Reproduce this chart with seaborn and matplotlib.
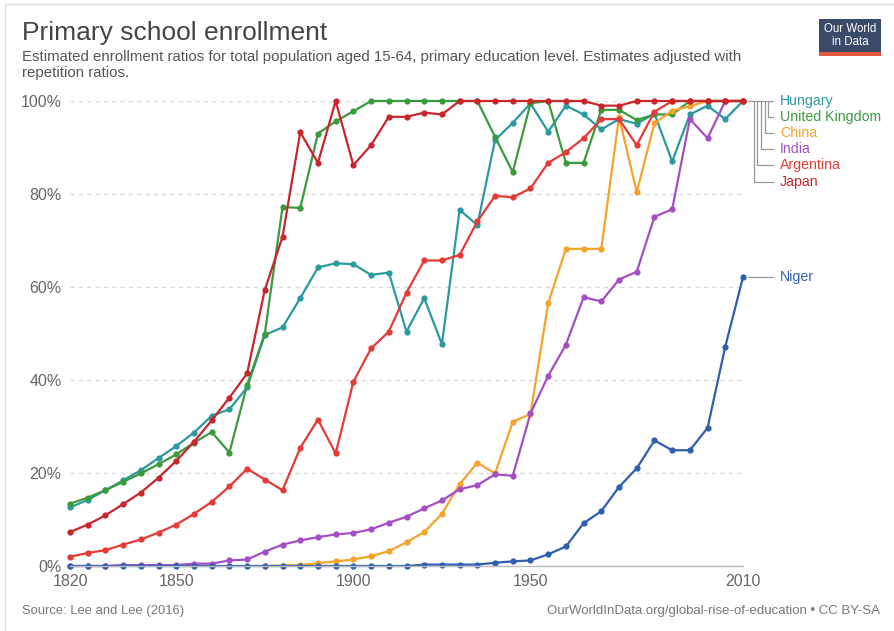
import numpy as np
import pandas as pd
import matplotlib
matplotlib.use('Agg')
import matplotlib.pyplot as plt
from matplotlib.lines import Line2D
from matplotlib.patches import Rectangle
import seaborn as sns

# Data (enrollment ratio, %)
years = list(range(1820, 2011, 5))

hungary = [12.6, 14.2, 16.3, 18.4, 20.6, 23.2, 25.8, 28.7, 32.3, 33.7, 38.4,
           49.7, 51.3, 57.6, 64.2, 65.1, 64.9, 62.6, 63.1, 50.4, 57.6, 47.7,
           76.6, 73.3, 91.6, 95.3, 99.5, 93.4, 99.0, 97.1, 93.9, 96.1, 95.1,
           97.3, 87.0, 97.1, 99.0, 96.1, 100.0]
united_kingdom = [13.4, 14.7, 16.3, 18.1, 19.9, 21.9, 24.0, 26.5, 28.8, 24.4, 38.9,
                  50.0, 77.2, 77.0, 93.0, 95.6, 97.8, 100.0, 100.0, 100.0, 100.0, 100.0,
                  100.0, 100.0, 92.3, 84.7, 99.5, 100.0, 86.7, 86.7, 98.1, 98.1, 95.9,
                  97.1, 97.1, 100.0, 100.0, 100.0, 100.0]
china = [None, None, None, None, None, None, None, None, None, None, None,
         0.0, 0.1, 0.2, 0.6, 1.0, 1.4, 2.1, 3.2, 5.1, 7.3, 11.2,
         17.6, 22.2, 19.9, 31.0, 32.7, 56.5, 68.2, 68.2, 68.2, 96.6, 80.4,
         95.2, 97.9, 98.9, 100.0, 100.0, 100.0]
india = [0.0, 0.0, 0.0, 0.2, 0.2, 0.2, 0.2, 0.5, 0.5, 1.2, 1.4,
         3.1, 4.6, 5.5, 6.2, 6.8, 7.1, 7.9, 9.3, 10.6, 12.4, 14.1,
         16.5, 17.4, 19.7, 19.4, 32.8, 40.9, 47.6, 57.8, 56.9, 61.6, 63.3,
         75.1, 76.7, 96.1, 92.0, 100.0, 100.0]
argentina = [2.0, 2.8, 3.4, 4.6, 5.7, 7.2, 8.9, 11.2, 13.8, 17.1, 20.9,
             18.6, 16.3, 25.4, 31.5, 24.2, 39.6, 46.8, 50.4, 58.8, 65.7, 65.7,
             66.9, 74.1, 79.6, 79.3, 81.2, 86.7, 89.0, 92.0, 96.1, 96.1, 90.5,
             97.7, 100.0, 100.0, 100.0, 100.0, 100.0]
japan = [7.3, 8.9, 10.9, 13.3, 15.8, 19.0, 22.6, 26.7, 31.3, 36.2, 41.4,
         59.4, 70.8, 93.3, 86.7, 100.0, 86.2, 90.5, 96.6, 96.6, 97.5, 97.1,
         100.0, 100.0, 100.0, 100.0, 100.0, 100.0, 100.0, 100.0, 99.0, 99.0, 100.0,
         100.0, 100.0, 100.0, 100.0, 100.0, 100.0]
niger = [0.0, 0.0, 0.0, 0.0, 0.0, 0.0, 0.0, 0.0, 0.0, 0.0, 0.0,
         0.0, 0.0, 0.0, 0.0, 0.0, 0.0, 0.0, 0.0, 0.0, 0.3, 0.3,
         0.3, 0.3, 0.7, 1.0, 1.2, 2.5, 4.2, 9.2, 11.8, 17.0, 21.0,
         27.0, 24.9, 24.9, 29.7, 47.2, 62.1]

countries = ['Hungary', 'United Kingdom', 'China', 'India', 'Argentina', 'Japan', 'Niger']
series = [hungary, united_kingdom, china, india, argentina, japan, niger]
colors = ['#2b9aa0', '#3a9a3c', '#f6a32c', '#a54dc4', '#e53a35', '#c9252c', '#2e5fae']

x_ticks = [1820, 1850, 1900, 1950, 2010]
y_ticks = [0, 20, 40, 60, 80, 100]

rows = []
for name, vals in zip(countries, series):
    for yr, v in zip(years, vals):
        if v is not None:
            rows.append({'year': yr, 'country': name, 'value': v})
df = pd.DataFrame(rows)

W, H = 894, 631
def fx(x):
    return x / W
def fy(y):
    return 1 - y / H

sns.set_theme(style='white')
plt.rcParams['font.family'] = ['Liberation Sans', 'DejaVu Sans']

fig = plt.figure(figsize=(W / 100, H / 100), dpi=100)
ax = fig.add_axes([fx(70), fy(566), fx(743) - fx(70), fy(101) - fy(566)])

sns.lineplot(data=df, x='year', y='value', hue='country', hue_order=countries,
             palette=dict(zip(countries, colors)), marker='o', markersize=4.5,
             markeredgewidth=0, linewidth=1.6, legend=False, ax=ax,
             errorbar=None, sort=True)
for line in ax.lines:
    line.set_clip_on(False)

ax.set_xlim(1820, 2010)
ax.set_ylim(0, 100)
ax.set_xticks(x_ticks)
ax.set_xticklabels([str(t) for t in x_ticks])
ax.set_yticks(y_ticks)
ax.set_yticklabels([f'{t}%' for t in y_ticks])
ax.tick_params(axis='both', length=0, labelsize=11.5, colors='#666666')
ax.tick_params(axis='y', pad=6)
ax.tick_params(axis='x', pad=6)
ax.set_xlabel('')
ax.set_ylabel('')
ax.yaxis.grid(True, linestyle=(0, (3, 3)), color='#d9d9d9', linewidth=1)
ax.xaxis.grid(False)
for s in ['top', 'right', 'left']:
    ax.spines[s].set_visible(False)
ax.spines['bottom'].set_color('#bbbbbb')
ax.spines['bottom'].set_linewidth(1)

# label connectors on the right
gray = '#999999'
label_y = [100.7, 116.7, 133, 149, 165, 182]
vert_x = [None, 768, 765, 761, 757, 754]
fig.add_artist(Line2D([fx(748), fx(773)], [fy(100.7), fy(100.7)], color=gray, lw=0.9,
                      transform=fig.transFigure))
for vx, ly in zip(vert_x[1:], label_y[1:]):
    fig.add_artist(Line2D([fx(vx), fx(vx), fx(773)], [fy(100.7), fy(ly), fy(ly)],
                          color=gray, lw=0.9, transform=fig.transFigure))
for name, c, ly in zip(countries[:6], colors[:6], label_y):
    fig.text(fx(780), fy(ly), name, color=c, fontsize=10.2, va='center', ha='left')
fig.add_artist(Line2D([fx(748), fx(773)], [fy(277.3), fy(277.3)], color=gray, lw=0.9,
                      transform=fig.transFigure))
fig.text(fx(780), fy(277.3), 'Niger', color=colors[6], fontsize=10.2, va='center', ha='left')

# titles
fig.text(fx(22), fy(40), 'Primary school enrollment', fontsize=19, color='#444444',
         va='baseline')
fig.text(fx(22), fy(61), 'Estimated enrollment ratios for total population aged 15-64, '
         'primary education level. Estimates adjusted with', fontsize=10.85, color='#555555',
         va='baseline')
fig.text(fx(22), fy(77.5), 'repetition ratios.', fontsize=10.85, color='#555555',
         va='baseline')

# footer
fig.text(fx(22), fy(614), 'Source: Lee and Lee (2016)', fontsize=9.4, color='#777777',
         va='baseline')
fig.text(fx(880), fy(614), 'OurWorldInData.org/global-rise-of-education \u2022 CC BY-SA',
         fontsize=9.5, color='#777777', va='baseline', ha='right')

# logo
fig.add_artist(Rectangle((fx(819), fy(56)), fx(881) - fx(819), fy(19) - fy(56),
                         facecolor='#3c4a69', edgecolor='none', transform=fig.transFigure))
fig.add_artist(Rectangle((fx(819), fy(56)), fx(881) - fx(819), fy(52) - fy(56),
                         facecolor='#e2583e', edgecolor='none', transform=fig.transFigure))
fig.text(fx(850), fy(29), 'Our World', color='white', fontsize=8.3,
         ha='center', va='center')
fig.text(fx(850), fy(42), 'in Data', color='white', fontsize=8.3,
         ha='center', va='center')

# frame
fig.add_artist(Line2D([fx(5), 1], [fy(4), fy(4)], color='#dddddd', lw=1,
                      transform=fig.transFigure))
fig.add_artist(Line2D([fx(5), fx(5)], [fy(4), 0], color='#dddddd', lw=1,
                      transform=fig.transFigure))

fig.savefig('out.png', dpi=100)
